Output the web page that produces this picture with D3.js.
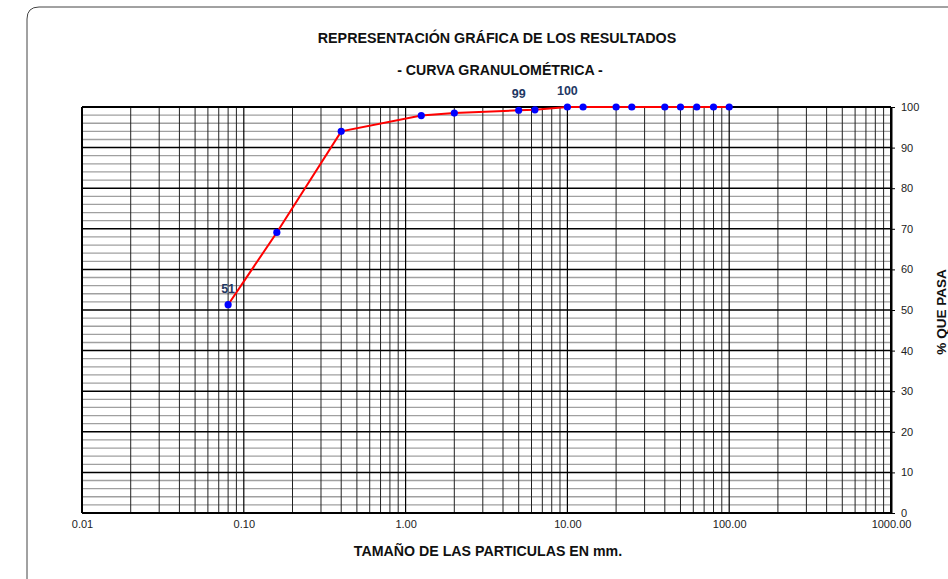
<!DOCTYPE html>
<html><head><meta charset="utf-8">
<script src="https://cdn.jsdelivr.net/npm/d3@7"></script>
<style>body{margin:0;background:#fff}svg{display:block;font-family:Arial,"Liberation Sans",sans-serif}</style>
</head><body>
<svg id="c" width="948" height="579"></svg>
<script>
const sizes = [100, 80, 63, 50, 40, 25, 20, 12.5, 10, 6.3, 5, 2, 1.25, 0.4, 0.16, 0.08];
const passing = [100, 100, 100, 100, 100, 100, 100, 100, 100, 99.3, 99.2, 98.5, 97.9, 94.0, 69.1, 51.3];
const xTickValues = [0.01, 0.1, 1, 10, 100, 1000];
const xTickLabels = ["0.01", "0.10", "1.00", "10.00", "100.00", "1000.00"];
const yTickValues = [0, 10, 20, 30, 40, 50, 60, 70, 80, 90, 100];
const pointLabels = [{size: 0.08, text: "51"}, {size: 5, text: "99"}, {size: 10, text: "100"}];

const svg = d3.select("#c");
const L = 82, R = 891, T = 107, B = 513;
const x = d3.scaleLog().domain([0.01, 1000]).range([L, R]);
const y = d3.scaleLinear().domain([0, 100]).range([B, T]);

// frame
svg.append("path").attr("d", "M27,579 L27,19 Q27,7 39,7 L960,7")
  .attr("fill", "none").attr("stroke", "#444").attr("stroke-width", 1);

// horizontal minor grid
const hMinor = d3.range(2, 100, 2).filter(v => v % 10 !== 0);
svg.append("g").selectAll("line").data(hMinor).join("line")
  .attr("x1", L).attr("x2", R).attr("y1", d => y(d)).attr("y2", d => y(d))
  .attr("stroke", "#a0a0a0").attr("stroke-width", 1.3);

// vertical minor grid
const vMinor = [];
[0.01, 0.1, 1, 10, 100].forEach(dec => { for (let k = 2; k <= 9; k++) vMinor.push(dec * k); });
svg.append("g").selectAll("line").data(vMinor).join("line")
  .attr("x1", d => x(d)).attr("x2", d => x(d)).attr("y1", T).attr("y2", B)
  .attr("stroke", "#222").attr("stroke-width", 1);

// horizontal major grid
svg.append("g").selectAll("line").data(yTickValues).join("line")
  .attr("x1", L).attr("x2", R).attr("y1", d => y(d)).attr("y2", d => y(d))
  .attr("stroke", "#000").attr("stroke-width", d => (d === 0 || d === 100) ? 2 : 1.5);

// vertical major grid
svg.append("g").selectAll("line").data(xTickValues).join("line")
  .attr("x1", d => x(d)).attr("x2", d => x(d)).attr("y1", T).attr("y2", B)
  .attr("stroke", "#000").attr("stroke-width", d => (d === 0.01 || d === 1000) ? 2 : 1.2);

// right axis
const ya = svg.append("g").attr("transform", `translate(${R},0)`)
  .call(d3.axisRight(y).tickValues(yTickValues).tickSize(4).tickSizeOuter(0).tickPadding(6));
ya.select(".domain").attr("stroke", "#000").attr("stroke-width", 2);
ya.selectAll("text").attr("font-size", 11).attr("fill", "#222").attr("font-family", "Arial, Liberation Sans, sans-serif");

// bottom axis labels
const xa = svg.append("g").attr("transform", `translate(0,${B})`)
  .call(d3.axisBottom(x).tickValues(xTickValues).tickFormat((d, i) => xTickLabels[i]).tickSize(0).tickPadding(7));
xa.select(".domain").remove();
xa.selectAll("text").attr("font-size", 11).attr("fill", "#222").attr("font-family", "Arial, Liberation Sans, sans-serif");

// data
const pts = sizes.map((s, i) => ({s, p: passing[i]}));
svg.append("path").datum(pts)
  .attr("d", d3.line().x(d => x(d.s)).y(d => y(d.p)))
  .attr("fill", "none").attr("stroke", "#ff0000").attr("stroke-width", 2);
svg.append("g").selectAll("circle").data(pts).join("circle")
  .attr("cx", d => x(d.s)).attr("cy", d => y(d.p)).attr("r", 3.6).attr("fill", "#0000ff");

// point labels
svg.append("g").selectAll("text").data(pointLabels).join("text")
  .attr("x", d => x(d.size)).attr("y", d => y(passing[sizes.indexOf(d.size)]) - 12)
  .attr("text-anchor", "middle").attr("font-size", 12.5).attr("font-weight", "bold")
  .attr("fill", "#1f3864").text(d => d.text);

// titles
svg.append("text").attr("x", 497).attr("y", 43).attr("text-anchor", "middle")
  .attr("font-size", 14.3).attr("font-weight", "bold").attr("fill", "#111")
  .text("REPRESENTACIÓN GRÁFICA DE LOS RESULTADOS");
svg.append("text").attr("x", 500).attr("y", 75).attr("text-anchor", "middle")
  .attr("font-size", 14.2).attr("font-weight", "bold").attr("fill", "#111")
  .text("- CURVA GRANULOMÉTRICA -");
svg.append("text").attr("x", 488).attr("y", 556).attr("text-anchor", "middle")
  .attr("font-size", 14.2).attr("font-weight", "bold").attr("fill", "#111")
  .text("TAMAÑO DE LAS PARTICULAS EN mm.");
svg.append("text").attr("transform", "translate(946,312) rotate(-90)").attr("text-anchor", "middle")
  .attr("font-size", 13.5).attr("font-weight", "bold").attr("fill", "#111")
  .text("% QUE PASA");
</script>
</body></html>
